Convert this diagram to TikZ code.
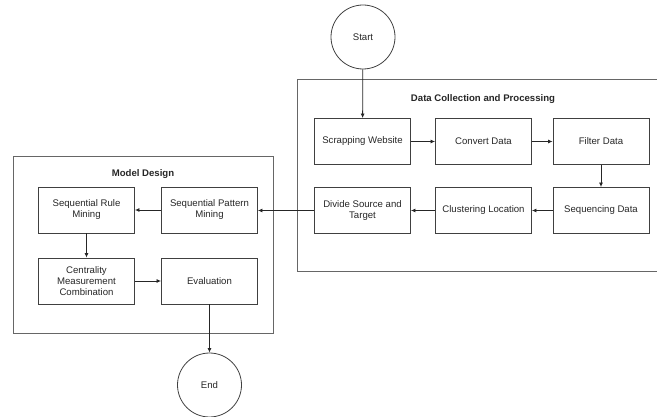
\documentclass[tikz,border=0pt]{standalone}
\usepackage{fontspec}
\setmainfont{Liberation Sans}
\usetikzlibrary{arrows.meta}
\begin{document}
\begin{tikzpicture}[x=1pt,y=-1pt,
  every node/.style={font=\fontsize{9.6}{11}\selectfont, text=black!85},
  proc/.style={draw=black!75, line width=0.9pt, rectangle, minimum width=96pt, minimum height=46pt, align=center, inner sep=1pt},
  term/.style={draw=black!75, line width=0.8pt, circle, minimum size=64pt, inner sep=0pt},
  group/.style={draw=black!60, line width=1pt},
  flow/.style={draw=black!85, line width=0.8pt, -{Latex[length=4.5pt,width=4pt]}},
  gtitle/.style={font=\bfseries\fontsize{9.6}{11}\selectfont}
]
\useasboundingbox (0,0) rectangle (657,417);
\begin{scope}
\clip (0,0) rectangle (657,417);
\draw[group] (297,80) rectangle (680,272);
\end{scope}
\draw[group] (13,157) rectangle (273,334);
\node[gtitle] (t1) at (483,99) {Data Collection and Processing};
\node[gtitle] (t2) at (143,174) {Model Design};

\node[term] (start) at (363,37) {Start};
\node[term] (end) at (209.5,385) {End};

\node[proc] (scrap) at (362.5,141.5) {Scrapping Website};
\node[proc] (conv) at (483.5,141.5) {Convert Data};
\node[proc] (filt) at (601,141.5) {Filter Data};
\node[proc] (seq) at (601,210.5) {Sequencing Data};
\node[proc] (clus) at (483.5,210.5) {Clustering Location};
\node[proc] (div) at (362.5,210.5) {Divide Source and\\Target};

\node[proc] (spm) at (209.5,210) {Sequential Pattern\\Mining};
\node[proc] (srm) at (86.5,210) {Sequential Rule\\Mining};
\node[proc] (cent) at (86.5,281) {Centrality\\Measurement\\Combination};
\node[proc] (eval) at (209.5,281) {Evaluation};

\draw[flow] (start) -- (scrap);
\draw[flow] (scrap) -- (conv);
\draw[flow] (conv) -- (filt);
\draw[flow] (filt) -- (seq);
\draw[flow] (seq) -- (clus);
\draw[flow] (clus) -- (div);
\draw[flow] (div.west) -- (div.west -| spm.east);
\draw[flow] (spm) -- (srm);
\draw[flow] (srm) -- (cent);
\draw[flow] (cent) -- (eval);
\draw[flow] (eval) -- (end);
\end{tikzpicture}
\end{document}
